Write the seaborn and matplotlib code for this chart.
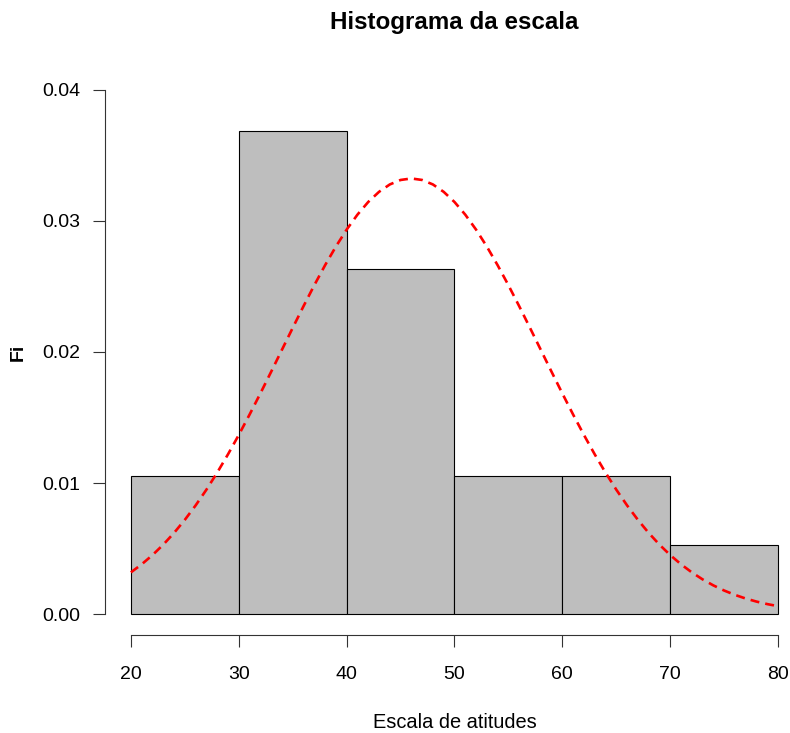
import numpy as np
import pandas as pd
import seaborn as sns
import matplotlib.pyplot as plt

#--Data
bin_edges = [20, 30, 40, 50, 60, 70, 80]
bin_centers = [25, 35, 45, 55, 65, 75]
counts = [2, 7, 5, 2, 2, 1]

#Normal curve (mean ~46, sd ~12) read at each unit from 20 to 80
curve_x = list(range(20, 81))
curve_y = [0.003180, 0.003796, 0.004499, 0.005296, 0.006193, 0.007190, 0.008290,
           0.009491, 0.010793, 0.012188, 0.013667, 0.015221, 0.016833, 0.018487,
           0.020164, 0.021840, 0.023492, 0.025095, 0.026621, 0.028044, 0.029339,
           0.030481, 0.031449, 0.032222, 0.032787, 0.033130, 0.033245, 0.033130,
           0.032787, 0.032222, 0.031449, 0.030481, 0.029339, 0.028044, 0.026621,
           0.025095, 0.023492, 0.021840, 0.020164, 0.018487, 0.016833, 0.015221,
           0.013667, 0.012188, 0.010793, 0.009491, 0.008290, 0.007190, 0.006193,
           0.005296, 0.004499, 0.003796, 0.003180, 0.002645, 0.002185, 0.001793,
           0.001461, 0.001182, 0.000950, 0.000758, 0.000601]

y_ticks = [0.00, 0.01, 0.02, 0.03, 0.04]
x_ticks = [20, 30, 40, 50, 60, 70, 80]

df = pd.DataFrame({'escala': bin_centers, 'n': counts})

#%%
sns.set_style('ticks')
plt.rcParams['font.family'] = ['Liberation Sans', 'DejaVu Sans']
plt.rcParams['text.color'] = 'black'
plt.rcParams['axes.labelcolor'] = 'black'
plt.rcParams['xtick.color'] = 'black'
plt.rcParams['ytick.color'] = 'black'

fig = plt.figure(figsize=(7.9, 7.33), dpi=100)
ax = fig.add_axes([105 / 790, 98 / 733, 699 / 790, 566 / 733])

sns.histplot(data=df, x='escala', weights='n', bins=bin_edges, stat='density',
             color='#BEBEBE', edgecolor='black', linewidth=0.8, alpha=1, ax=ax)
sns.lineplot(x=curve_x, y=curve_y, color='red', linewidth=1.9, ax=ax)
ax.lines[-1].set_dashes((3.4, 2.3))

ax.set_xlim(17.6, 82.4)
ax.set_ylim(-0.0016, 0.0416)
ax.set_xticks(x_ticks)
ax.set_yticks(y_ticks)
ax.set_yticklabels(['%.2f' % v for v in y_ticks])

sns.despine(ax=ax)
for side in ['left', 'bottom']:
    ax.spines[side].set_linewidth(0.8)
    ax.spines[side].set_color('#333333')
ax.spines['left'].set_bounds(0, 0.04)
ax.spines['bottom'].set_bounds(20, 80)

ax.tick_params(axis='both', length=8.6, width=0.8, color='#333333', labelsize=14, pad=14)
ax.tick_params(axis='y', pad=9)

ax.set_title('Histograma da escala', fontsize=17.4, fontweight='bold', pad=29)
ax.set_xlabel('Escala de atitudes', fontsize=14.4, labelpad=21)
ax.set_ylabel('Fi', fontsize=14, fontweight='bold', labelpad=11)

plt.savefig('out.png', dpi=100)
plt.close()
